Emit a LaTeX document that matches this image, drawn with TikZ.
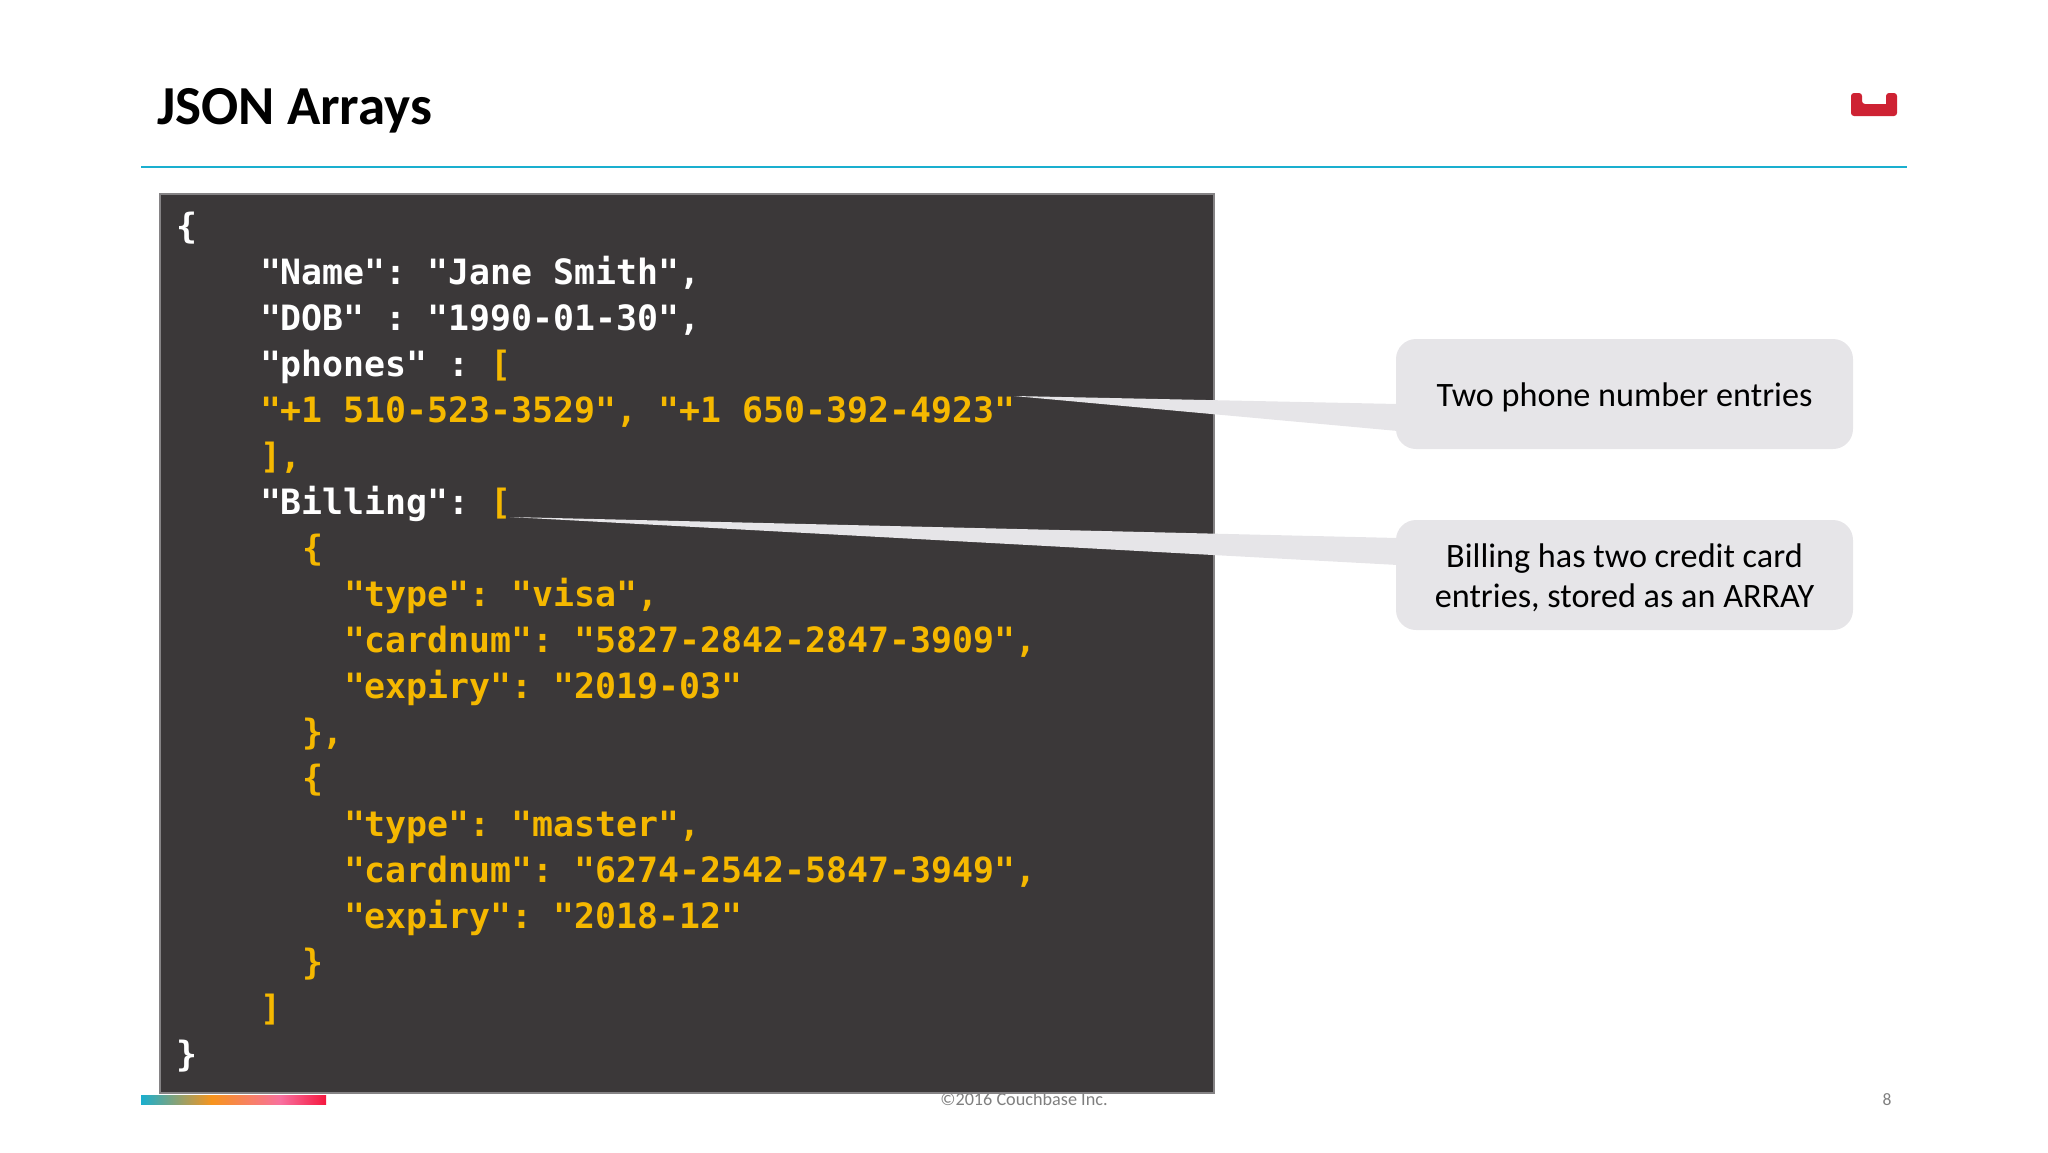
\documentclass[tikz,border=0pt]{standalone}
\usepackage{fontspec}
\setmainfont{Carlito}
\newfontfamily\codefont{DejaVu Sans Mono}
\definecolor{panel}{HTML}{3B3839}
\definecolor{paneledge}{HTML}{858385}
\definecolor{codeyellow}{HTML}{F5B800}
\definecolor{calloutfill}{HTML}{E6E5E8}
\definecolor{rulecyan}{HTML}{1AAFCF}
\definecolor{logored}{HTML}{CE2233}
\definecolor{footgrey}{HTML}{7F7F7F}
\definecolor{barorange}{HTML}{F7941D}
\definecolor{barpink}{HTML}{F8709F}
\definecolor{barred}{HTML}{F5173F}
\tikzset{
  every node/.style={inner sep=0pt,outer sep=0pt},
  codeline/.style={anchor=base west,text=white,font=\codefont\bfseries\frenchspacing\fontsize{34.85}{40}\selectfont},
  codeval/.style={codeline,text=codeyellow},
  callout/.style={fill=calloutfill,rounded corners=20pt,minimum width=457pt,minimum height=110pt},
  callouttext/.style={align=center,text=black,font=\fontsize{34.2}{40.5}\selectfont},
  pointer/.style={fill=calloutfill,draw=none},
}
\begin{document}
\begin{tikzpicture}[x=1pt,y=-1pt]
\useasboundingbox (0,0) rectangle (2048,1152);
% title and rule
\node[anchor=base west,font=\bfseries\fontsize{55}{60}\selectfont] (title) at (157,124) {JSON Arrays};
\draw[rulecyan,line width=2.5pt] (141,167) -- (1907,167);
% logo
\fill[logored,rounded corners=3pt] (1851,93) -- (1862,93) -- (1862,104) [sharp corners] -- (1886,104) [rounded corners=3pt] -- (1886,93) -- (1897,93) -- (1897,116) -- (1851,116) -- cycle;
% footer
\node[anchor=base,text=footgrey,font=\fontsize{18.2}{20}\selectfont] (copy) at (1024,1105) {©2016 Couchbase Inc.};
\node[anchor=base,text=footgrey,font=\fontsize{17.5}{20}\selectfont] (pagenum) at (1887,1105) {8};
\shade[left color=rulecyan,right color=barorange] (141,1095) rectangle (212,1104);
\shade[left color=barorange,right color=barpink] (211.5,1095) rectangle (281,1104);
\shade[left color=barpink,right color=barred] (280.5,1095) rectangle (326,1104);
% code panel
\node[anchor=north west,fill=panel,draw=paneledge,line width=1.3pt,minimum width=1054pt,minimum height=899pt] (panel) at (160,194) {};
\node[codeline] (l1) at (176,238) {\{};
\node[codeline] (l2) at (260,284) {"Name": "Jane Smith",};
\node[codeline] (l3) at (260,330) {"DOB" : "1990-01-30",};
\node[codeline] (l4) at (260,376) {"phones" : \textcolor{codeyellow}{[}};
\node[codeval] (l5) at (260,422) {"+1 510-523-3529", "+1 650-392-4923"};
\node[codeval] (l6) at (260,468) {],};
\node[codeline] (l7) at (260,514) {"Billing": \textcolor{codeyellow}{[}};
\node[codeval] (l8) at (302,560) {\{};
\node[codeval] (l9) at (344,606) {"type": "visa",};
\node[codeval] (l10) at (344,652) {"cardnum": "5827-2842-2847-3909",};
\node[codeval] (l11) at (344,698) {"expiry": "2019-03"};
\node[codeval] (l12) at (302,744) {\},};
\node[codeval] (l13) at (302,790) {\{};
\node[codeval] (l14) at (344,836) {"type": "master",};
\node[codeval] (l15) at (344,882) {"cardnum": "6274-2542-5847-3949",};
\node[codeval] (l16) at (344,928) {"expiry": "2018-12"};
\node[codeval] (l17) at (302,974) {\}};
\node[codeval] (l18) at (260,1020) {]};
\node[codeline] (l19) at (176,1066) {\}};
% callouts
\node[callout] (c1) at (1624.5,394) {};
\node[callout] (c2) at (1624.5,575) {};
\node[callouttext] (c1t) at (1624.5,397) {Two phone number entries};
\node[callouttext] (c2t) at (1624.5,578) {Billing has two credit card\\entries, stored as an ARRAY};
\coordinate (t1) at (1014,396);
\coordinate (t2) at (510,517);
\fill[pointer] (t1) -- ([yshift=-10pt,xshift=2pt]c1.west) -- ([yshift=-37pt,xshift=2pt]c1.west) -- cycle;
\fill[pointer] (t2) -- ([yshift=37pt,xshift=2pt]c2.west) -- ([yshift=10pt,xshift=2pt]c2.west) -- cycle;
\end{tikzpicture}
\end{document}
